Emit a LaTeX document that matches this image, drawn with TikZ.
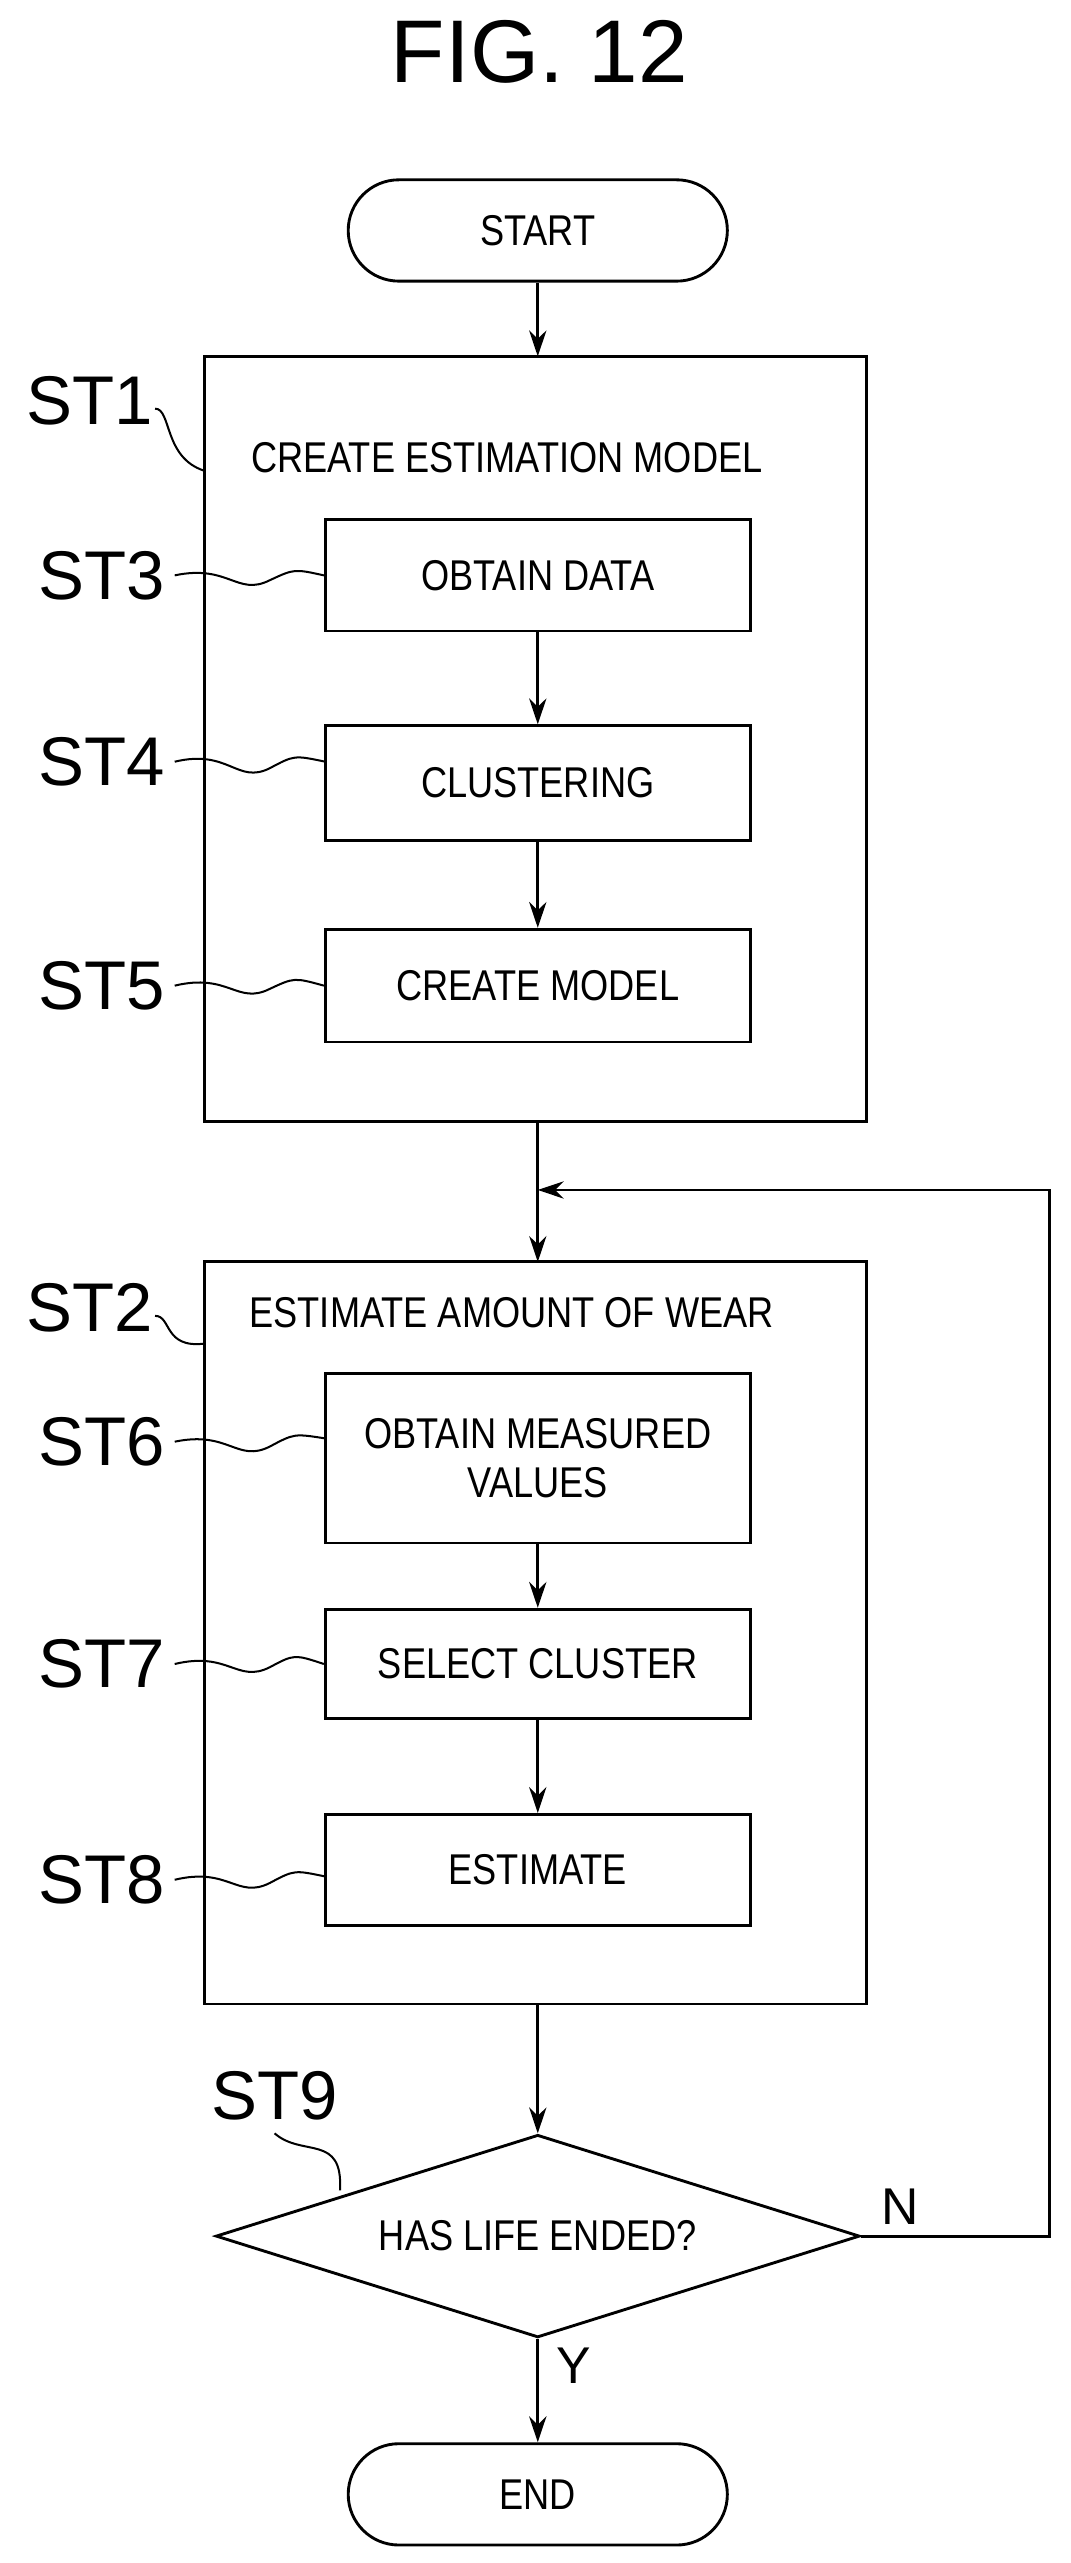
\documentclass[tikz,border=0pt]{standalone}
\usepackage{fontspec}
\setmainfont{Liberation Sans}
\newfontfamily\cond{Liberation Sans}[FakeStretch=0.84]
\usetikzlibrary{shapes.geometric,arrows.meta}
\begin{document}
\begin{tikzpicture}[x=0.02cm,y=-0.02cm,
  box/.style={draw,line width=1pt,minimum width=5.2cm,inner sep=2pt,align=center,font=\cond\fontsize{15}{17}\selectfont},
  term/.style={draw,line width=1pt,rounded corners=0.62cm,minimum width=4.64cm,minimum height=1.24cm,font=\cond\fontsize{15}{17}\selectfont},
  big/.style={draw,line width=1pt},
  lab/.style={font=\fontsize{24}{26}\selectfont},
  arr/.style={line width=1pt,-{Stealth[length=9pt,width=6pt]}},
  sq/.style={line width=0.7pt},
  txt/.style={font=\cond\fontsize{15}{17}\selectfont}]
\useasboundingbox (0,0) rectangle (655,1568);
\node[font=\fontsize{31}{34}\selectfont] (title) at (330,32) {FIG. 12};
\node[term] (start) at (329,141) {START};
\draw[big] (125,218) rectangle (530,686);
\coordinate (b1tl) at (125,288);
\node[txt] (t1) at (310,280) {CREATE ESTIMATION MODEL};
\node[box,minimum height=1.36cm] (s3) at (329,352) {OBTAIN DATA};
\node[box,minimum height=1.4cm] (s4) at (329,479) {CLUSTERING};
\node[box,minimum height=1.38cm] (s5) at (329,603) {CREATE MODEL};
\draw[big] (125,772) rectangle (530,1226);
\node[txt] (t2) at (313,803) {ESTIMATE AMOUNT OF WEAR};
\node[box,minimum height=2.08cm] (s6) at (329,892) {OBTAIN MEASURED\\VALUES};
\node[box,minimum height=1.34cm] (s7) at (329,1018) {SELECT CLUSTER};
\node[box,minimum height=1.36cm] (s8) at (329,1144) {ESTIMATE};
\node[draw,diamond,line width=1pt,aspect=3.18,minimum width=7.88cm,minimum height=2.48cm,inner sep=0pt,font=\cond\fontsize{15}{17}\selectfont] (d) at (329,1368) {HAS LIFE ENDED?};
\node[term] (end) at (329,1526) {END};
\coordinate (b1top) at (329,218);
\coordinate (b1bot) at (329,686);
\coordinate (b2top) at (329,772);
\coordinate (b2bot) at (329,1226);
\coordinate (loopR) at (642,1368);
\coordinate (loopT) at (642,728);
\coordinate (loopJ) at (329,728);
\draw[arr] (start) -- (b1top);
\draw[arr] (s3) -- (s4);
\draw[arr] (s4) -- (s5);
\draw[arr] (b1bot) -- (b2top);
\draw[arr] (s6) -- (s7);
\draw[arr] (s7) -- (s8);
\draw[arr] (b2bot) -- (d.north);
\draw[arr] (d.south) -- (end);
\draw[arr] (d.east) -- (loopR) -- (loopT) -- (loopJ);
\node[font=\fontsize{18}{20}\selectfont] (n) at (551,1350) {N};
\node[font=\fontsize{18}{20}\selectfont] (y) at (351,1447) {Y};
% labels
\node[lab] (l1) at (55,245) {ST1};
\draw[sq] (l1.east) ++(-5,5) .. controls (105,250) and (100,280) .. (b1tl);
\node[lab] (l3) at (62,352) {ST3};
\draw[sq] (l3.east) .. controls (140,345) and (145,365) .. (165,355) .. controls (180,348) .. (s3.west);
\node[lab] (l4) at (62,466) {ST4};
\draw[sq] (l4.east) .. controls (140,458) and (145,480) .. (165,470) .. controls (180,462) .. (199,466);
\node[lab] (l5) at (62,603) {ST5};
\draw[sq] (l5.east) .. controls (140,595) and (145,615) .. (165,605) .. controls (180,598) .. (s5.west);
\node[lab] (l2) at (55,800) {ST2};
\draw[sq] (l2.east) ++(-5,5) .. controls (105,805) and (100,825) .. (125,822);
\node[lab] (l6) at (62,882) {ST6};
\draw[sq] (l6.east) .. controls (140,875) and (145,895) .. (165,885) .. controls (180,877) .. (199,880);
\node[lab] (l7) at (62,1018) {ST7};
\draw[sq] (l7.east) .. controls (140,1010) and (145,1030) .. (165,1020) .. controls (180,1012) .. (s7.west);
\node[lab] (l8) at (62,1150) {ST8};
\draw[sq] (l8.east) .. controls (140,1142) and (145,1162) .. (165,1152) .. controls (180,1144) .. (199,1148);
\node[lab] (l9) at (168,1282) {ST9};
\draw[sq] (l9.south) ++(0,2) .. controls (185,1320) and (210,1305) .. (208,1340);
\end{tikzpicture}
\end{document}
